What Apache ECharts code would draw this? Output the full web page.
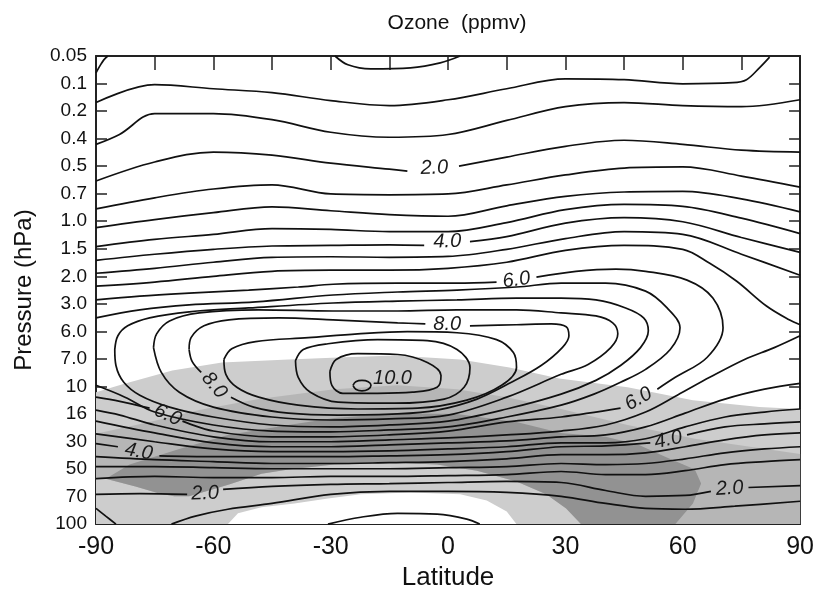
<!DOCTYPE html>
<html>
<head>
<meta charset="utf-8">
<title>Ozone (ppmv)</title>
<script src="https://cdn.jsdelivr.net/npm/echarts@6/dist/echarts.min.js"></script>
<style>
  html, body { margin: 0; padding: 0; background: #fff; }
  #chart { width: 817px; height: 596px; }
</style>
</head>
<body>
<div id="chart"></div>
<script>
// pressure levels, drawn evenly spaced from top (index 0) to bottom (index 17)
var pressureLabels = ['0.05', '0.1', '0.2', '0.4', '0.5', '0.7', '1.0', '1.5', '2.0',
  '3.0', '6.0', '7.0', '10', '16', '30', '50', '70', '100'];

// contour lines, each point is [latitude, pressure level index]
var cCorner = [[-90, 0.61], [-89, 0.36], [-88, 0.14], [-87, 0]];
var cTopLoop = [[-28.9, 0], [-25.6, 0.32], [-19.8, 0.47], [-9.6, 0.43], [-2, 0.25], [3.1, 0]];
var cA = [[-90, 1.69], [-75, 1.04], [-60, 1.19], [-45, 1.33], [-30, 1.62], [-15, 1.80], [0, 1.59],
  [15, 1.19], [30, 0.83], [45, 0.86], [60, 1.01], [72.8, 0.97], [76.3, 0.86], [79.6, 0.43], [82.2, 0.04]];
var cB = [[-90, 3.21], [-84, 2.85], [-75, 2.09], [-60, 2.09], [-45, 2.31], [-30, 2.77], [-15, 2.95],
  [0, 2.85], [15, 2.34], [30, 1.84], [45, 1.69], [60, 1.80], [75, 1.84], [90, 1.59]];
var c20TopW = [[-90, 4.54], [-75, 3.85], [-60, 3.49], [-45, 3.60], [-30, 3.89], [-15, 4.11], [-10.4, 4.18]];
var c20TopE = [[2.8, 4.00], [15, 3.67], [30, 3.28], [45, 3.06], [60, 3.21], [75, 3.42], [90, 3.49]];
var cD = [[-90, 5.55], [-75, 5.15], [-60, 4.83], [-45, 4.68], [-30, 5.01], [-15, 5.04], [0, 5.01],
  [15, 4.68], [30, 4.32], [45, 4.07], [60, 4.03], [75, 4.36], [90, 4.76]];
var cE = [[-90, 6.23], [-75, 5.94], [-60, 5.69], [-45, 5.48], [-30, 5.62], [-15, 5.76], [0, 5.82],
  [15, 5.44], [30, 5.10], [45, 4.94], [60, 4.92], [75, 5.19], [90, 5.66]];
var cF = [[-90, 6.92], [-75, 6.66], [-60, 6.48], [-45, 6.27], [-30, 6.30], [-15, 6.38], [0, 6.38],
  [15, 6.05], [30, 5.58], [45, 5.39], [60, 5.46], [75, 5.89], [90, 6.45]];
var c40TopW = [[-90, 7.42], [-75, 7.20], [-60, 7.02], [-45, 6.90], [-30, 6.88], [-15, 6.86], [-6.1, 6.88]];
var c40TopE = [[5.6, 6.74], [15, 6.56], [30, 6.07], [45, 5.87], [60, 6.02], [75, 6.59], [90, 7.13]];
var cH = [[-90, 7.89], [-75, 7.71], [-60, 7.49], [-45, 7.31], [-30, 7.29], [-15, 7.31], [0, 7.28],
  [15, 7.02], [30, 6.63], [45, 6.38], [60, 6.48], [75, 7.20], [90, 7.96]];
var cIUpper = [[-90, 8.36], [-75, 8.21], [-60, 8.00], [-45, 7.82], [-30, 7.78], [-15, 7.78], [0, 7.71],
  [15, 7.49], [30, 7.06], [45, 6.88], [60, 7.02], [66.9, 7.53], [73.8, 8.18], [81.4, 9.08], [87.2, 9.58], [90, 9.76]];
var cILower = [[90, 10.16], [83.4, 10.59], [75.8, 11.02], [66.9, 11.67], [58.6, 12.32], [50.5, 12.93],
  [40.3, 13.40], [28.9, 13.62], [15, 13.76], [0, 13.87], [-15, 13.94], [-30, 14.01], [-45, 14.01],
  [-60, 13.83], [-75, 13.40], [-83.9, 13.04], [-90, 12.86]];
var c60a = [[-90, 8.86], [-78.8, 8.72], [-66.2, 8.61], [-51, 8.50], [-38.3, 8.39], [-29.4, 8.29],
  [-12.9, 8.25], [2.3, 8.25], [12.4, 8.21]];
var c60b = [[22.6, 8.03], [32.7, 7.82], [42.9, 7.74], [50.5, 7.82], [61.1, 8.14], [67.7, 8.79],
  [70.3, 9.87], [66.2, 10.95], [58.1, 11.67], [53.5, 12.10]];
var c60c = [[44.1, 12.79], [28.9, 13.11], [15, 13.29], [0, 13.62], [-15, 13.76], [-30, 13.83],
  [-45, 13.83], [-60, 13.62], [-67.9, 13.26]];
var c60d = [[-76.3, 12.79], [-83.9, 12.54], [-90, 12.39]];
var cK = [[-90, 9.51], [-78.8, 9.22], [-66.2, 9.04], [-49.2, 8.93], [-29.4, 8.68], [-12.9, 8.57],
  [2.3, 8.50], [17.5, 8.39], [28.9, 8.25], [40.3, 8.25], [50.5, 8.54], [56, 9.15], [59.3, 9.87],
  [56.8, 10.66], [50.5, 11.38], [44.1, 11.85], [37.3, 12.28], [28.9, 12.68], [15, 13.11], [0, 13.47],
  [-15, 13.58], [-30, 13.65], [-45, 13.62], [-60, 13.40], [-75, 12.93], [-82.6, 12.39], [-90, 11.96]];
var cTip = [[-85.2, 10.66], [-84.4, 10.16], [-81.9, 9.80], [-76.3, 9.51], [-66.2, 9.29], [-51, 9.15],
  [-29.4, 8.97], [-12.9, 8.90], [2.3, 8.86], [17.5, 8.79], [28.9, 8.79], [37.8, 8.86], [45.4, 9.15],
  [50, 9.51], [51.2, 9.98], [49.2, 10.59], [44.1, 11.24], [37.8, 11.78], [28.9, 12.28], [15, 12.82],
  [0, 13.26], [-15, 13.40], [-30, 13.47], [-45, 13.40], [-60, 13.11], [-71.2, 12.75], [-78.8, 12.32],
  [-82.9, 11.85], [-84.9, 11.24], [-85.2, 10.66]];
var cM7 = [[-75.3, 10.59], [-74.5, 10.09], [-71.2, 9.62], [-63.6, 9.33], [-48.4, 9.22], [-29.4, 9.26],
  [-12.9, 9.26], [2.3, 9.22], [17.5, 9.22], [28.9, 9.33], [37.8, 9.44], [42.1, 9.69], [43.4, 10.09],
  [41.6, 10.59], [35.8, 11.20], [28.9, 11.56], [15, 12.39], [0, 13.04], [-15, 13.18], [-30, 13.22],
  [-45, 13.11], [-60, 12.75], [-68.7, 12.21], [-73.3, 11.49], [-75.3, 10.59]];
var c80a = [[-66.2, 10.66], [-65.7, 10.23], [-62.4, 9.80], [-56, 9.58], [-43.3, 9.51], [-29.4, 9.58],
  [-12.9, 9.69], [-5.8, 9.73]];
var c80b = [[5.6, 9.80], [17.5, 9.76], [26.4, 9.73], [30.2, 9.83], [30.9, 10.16], [29.2, 10.59],
  [23.8, 11.24], [16.2, 11.85], [7.4, 12.46], [-2.8, 12.86], [-12.9, 13.00], [-28.1, 13.04],
  [-40.8, 12.97], [-49.7, 12.75], [-55.5, 12.39]];
var c80c = [[-63.1, 11.49], [-65.4, 11.10], [-66.2, 10.66]];
var c85 = [[-57.3, 11.02], [-55.3, 10.63], [-49.2, 10.37], [-35.7, 10.23], [-23.1, 10.09], [-10.4, 10.01],
  [2.3, 10.05], [12.4, 10.30], [16.7, 10.77], [17.5, 11.31], [13.7, 11.96], [4.8, 12.50], [-7.8, 12.79],
  [-23.1, 12.82], [-38.3, 12.68], [-48.4, 12.39], [-54, 12.03], [-56.8, 11.56], [-57.3, 11.02]];
var c90 = [[-39, 11.06], [-37, 10.66], [-30.7, 10.45], [-18, 10.30], [-5.3, 10.34], [2.3, 10.66],
  [5.6, 11.31], [4.1, 12.03], [-1, 12.46], [-13.7, 12.61], [-28.1, 12.57], [-35.2, 12.21],
  [-38.3, 11.67], [-39, 11.06]];
var c95 = [[-30.2, 11.46], [-28.6, 11.02], [-23.1, 10.81], [-12.9, 10.84], [-5.3, 11.13], [-1.8, 11.60],
  [-2.8, 12.03], [-9.1, 12.21], [-18, 12.25], [-26.9, 12.25], [-29.7, 11.96], [-30.2, 11.46]];
var c100 = [[-24.3, 11.96], [-23.6, 11.83], [-22, 11.78], [-20.4, 11.83], [-19.7, 11.96], [-20.4, 12.10],
  [-22, 12.16], [-23.6, 12.10], [-24.3, 11.96]];
var cL50 = [[-90, 13.26], [-75, 13.69], [-60, 14.05], [-45, 14.19], [-30, 14.19], [-15, 14.12], [0, 14.05],
  [15, 13.98], [28.9, 13.83], [40.3, 13.76], [50.5, 13.47], [60.6, 12.97], [70.8, 12.46], [80.9, 12.10], [90, 11.89]];
var cL45 = [[-90, 13.72], [-75, 14.01], [-60, 14.27], [-45, 14.37], [-30, 14.37], [-15, 14.34], [0, 14.27],
  [15, 14.19], [28.9, 14.05], [40.3, 14.05], [50.5, 13.90], [60.6, 13.47], [70.8, 13.11], [80.9, 12.93], [90, 12.82]];
var cL40a = [[-90, 14.08], [-84.4, 14.19]];
var cL40b = [[-73.8, 14.52], [-60, 14.55], [-45, 14.55], [-30, 14.55], [-15, 14.52], [0, 14.48], [15, 14.37],
  [28.9, 14.19], [40.3, 14.16], [51.7, 14.05]];
var cL40c = [[61.1, 13.76], [70.8, 13.47], [80.9, 13.36], [90, 13.29]];
var cL35 = [[-90, 14.55], [-75, 14.66], [-60, 14.73], [-45, 14.80], [-30, 14.80], [-15, 14.77], [0, 14.73],
  [15, 14.63], [28.9, 14.48], [40.3, 14.48], [50.5, 14.41], [60.6, 14.19], [70.8, 13.94], [80.9, 13.76], [90, 13.69]];
var cL30 = [[-90, 14.91], [-75, 14.91], [-60, 14.95], [-45, 14.99], [-30, 14.99], [-15, 14.99], [0, 14.95],
  [15, 14.91], [28.9, 14.80], [40.3, 14.84], [50.5, 14.80], [60.6, 14.63], [70.8, 14.41], [80.9, 14.27], [90, 14.19]];
var cL25 = [[-90, 15.35], [-75, 15.27], [-60, 15.31], [-45, 15.31], [-30, 15.27], [-15, 15.27], [0, 15.24],
  [15, 15.20], [28.9, 15.09], [40.3, 15.20], [50.5, 15.20], [60.6, 15.06], [70.8, 14.84], [80.9, 14.73], [90, 14.66]];
var cL20a = [[-90, 15.92], [-78.8, 15.89], [-66.7, 15.92]];
var cL20b = [[-57.5, 15.74], [-45, 15.63], [-30, 15.56], [-15, 15.53], [0, 15.49], [15, 15.45], [28.9, 15.49],
  [40.3, 15.78], [50.5, 15.99], [60.6, 15.96], [67.2, 15.81]];
var cL20c = [[76.8, 15.67], [90, 15.60]];
var cL15 = [[-70.7, 17], [-64.6, 16.71], [-56.3, 16.46], [-45, 16.25], [-30, 15.92], [-15, 15.81], [0, 15.81],
  [15, 15.85], [28.9, 15.99], [40.3, 16.25], [50.5, 16.43], [60.6, 16.46], [73.3, 16.35], [90, 16.17]];
var cL10Corner = [[-90, 16.43], [-87.5, 16.71], [-84.9, 17]];
var cL10Arc = [[-30.7, 17], [-22.3, 16.75], [-12.9, 16.61], [-2.8, 16.64], [4.8, 16.82], [8.1, 17]];

// contour labels: [latitude, level index, text, rotation in degrees]
var contourLabels = [
  [-3.5, 4.07, '2.0', 2], [-0.2, 6.74, '4.0', 1], [17.5, 8.14, '6.0', 8], [-0.2, 9.76, '8.0', 0],
  [-14.2, 11.71, '10.0', 0], [-59.8, 11.96, '8.0', -50], [-71.7, 13.04, '6.0', -25],
  [-79.1, 14.37, '4.0', -10], [-62.1, 15.89, '2.0', 2], [48.7, 12.46, '6.0', 30],
  [56.3, 13.94, '4.0', 12], [72, 15.71, '2.0', 4]
];

// shaded areas, polygons in [latitude, level index]
var shadeLight = [[-90, 12.21], [-83.2, 11.92], [-70.5, 11.42], [-57.8, 11.13], [-40.8, 11.02], [-28.1, 10.95],
  [-13.7, 10.88], [3.1, 11.02], [15.7, 11.31], [28.4, 11.71], [45.9, 12.03], [62.6, 12.50], [79.6, 12.75],
  [90, 12.82], [90, 17], [-90, 17]];
var shadeMedium = [[-90, 13.72], [-76.3, 13.29], [-63.6, 12.86], [-48.4, 12.46], [-29.1, 12.10], [-12.9, 11.96],
  [2.3, 12.10], [15, 12.39], [28.9, 12.82], [45.9, 13.40], [63.1, 13.90], [90, 14.45], [90, 17], [34, 17],
  [30.2, 16.43], [25.1, 15.92], [17.5, 15.45], [7.4, 15.06], [-2.8, 14.84], [-12.9, 14.77], [-29.1, 14.84],
  [-40.8, 15.02], [-47.7, 15.17], [-56, 15.56], [-60.3, 15.74], [-66.2, 15.99], [-70, 15.99], [-73.8, 15.89],
  [-79.9, 15.63], [-87.5, 15.35], [-90, 15.3]];
var shadeWhite = [[-56.3, 17], [-53.7, 16.61], [-47.7, 16.39], [-39.3, 16.25], [-30.7, 16.07], [-22.3, 15.92],
  [-9.6, 15.85], [3.1, 15.92], [9.9, 16.14], [15, 16.54], [17.5, 17]];
var shadeDark = [[-87.5, 15.35], [-81.4, 14.84], [-68.7, 14.27], [-56.3, 13.76], [-40.8, 13.40], [-29.1, 13.15],
  [-12.9, 12.97], [2.3, 13.00], [17.5, 13.29], [28.9, 13.69], [40.3, 13.83], [48.7, 14.12], [55.5, 14.55],
  [63.1, 15.02], [64.7, 15.53], [62.6, 16.25], [58.1, 17], [34, 17], [30.2, 16.43],
  [25.1, 15.92], [17.5, 15.45], [7.4, 15.06], [-2.8, 14.84], [-12.9, 14.77], [-29.1, 14.84], [-40.8, 15.02],
  [-47.7, 15.17], [-56, 15.56], [-60.3, 15.74], [-66.2, 15.99], [-70, 15.99], [-73.8, 15.89], [-79.9, 15.63],
  [-87.5, 15.35]];

var contourLines = [cCorner, cTopLoop, cA, cB, c20TopW, c20TopE, cD, cE, cF, c40TopW, c40TopE, cH,
  cIUpper, cILower, c60a, c60b, c60c, c60d, cK, cTip, cM7, c80a, c80b, c80c, c85, c90, c95, c100,
  cL50, cL45, cL40a, cL40b, cL40c, cL35, cL30, cL25, cL20a, cL20b, cL20c, cL15, cL10Corner, cL10Arc];

var FONT = '"Liberation Sans", Arial, Helvetica, sans-serif';

function shadeSeries(points, color, z) {
  return {
    type: 'custom',
    coordinateSystem: 'cartesian2d',
    silent: true,
    z: z,
    clip: true,
    data: [[0, 0]],
    renderItem: function (params, api) {
      return {
        type: 'polygon',
        shape: { points: points.map(function (p) { return api.coord(p); }) },
        style: { fill: color }
      };
    }
  };
}

var series = [
  shadeSeries(shadeLight, '#cdcdcd', 1),
  shadeSeries(shadeMedium, '#b6b6b6', 2),
  shadeSeries(shadeWhite, '#ffffff', 3),
  shadeSeries(shadeDark, '#929292', 4)
];

contourLines.forEach(function (pts) {
  series.push({
    type: 'line',
    data: pts,
    z: 5,
    smooth: 0.35,
    symbol: 'none',
    silent: true,
    lineStyle: { color: '#111', width: 1.7 }
  });
});

series.push({
  type: 'custom',
  coordinateSystem: 'cartesian2d',
  silent: true,
  z: 6,
  data: contourLabels.map(function (l) { return [l[0], l[1]]; }),
  renderItem: function (params, api) {
    var l = contourLabels[params.dataIndex];
    var pt = api.coord([l[0], l[1]]);
    return {
      type: 'text',
      x: pt[0],
      y: pt[1],
      rotation: l[3] * Math.PI / 180,
      style: {
        text: l[2],
        textAlign: 'center',
        textVerticalAlign: 'middle',
        font: 'italic 20px ' + FONT,
        fill: '#1a1a1a'
      }
    };
  }
});

var frameLine = { show: true, onZero: false, lineStyle: { color: '#222', width: 2 } };

var chart = echarts.init(document.getElementById('chart'));
chart.setOption({
  animation: false,
  backgroundColor: '#fff',
  title: {
    text: 'Ozone  (ppmv)',
    left: 452,
    top: 8,
    textAlign: 'center',
    textStyle: { fontFamily: FONT, fontSize: 21, fontWeight: 'normal', color: '#111' }
  },
  grid: { left: 96, right: 11, top: 56, bottom: 68 },
  xAxis: [{
    type: 'value',
    min: -90,
    max: 90,
    interval: 15,
    position: 'bottom',
    name: 'Latitude',
    nameLocation: 'middle',
    nameGap: 40,
    nameTextStyle: { fontFamily: FONT, fontSize: 26, color: '#111' },
    axisLine: frameLine,
    axisTick: { inside: true, length: 12, lineStyle: { color: '#222', width: 1.5 } },
    axisLabel: {
      margin: 11,
      fontFamily: FONT,
      fontSize: 25,
      color: '#111',
      formatter: function (v) { return v % 30 === 0 ? String(v) : ''; }
    },
    splitLine: { show: false }
  }, {
    type: 'value',
    min: -90,
    max: 90,
    interval: 15,
    position: 'top',
    axisLine: frameLine,
    axisTick: { inside: true, length: 14, lineStyle: { color: '#222', width: 1.5 } },
    axisLabel: { show: false },
    splitLine: { show: false }
  }],
  yAxis: [{
    type: 'value',
    min: 0,
    max: 17,
    interval: 1,
    inverse: true,
    position: 'left',
    name: 'Pressure (hPa)',
    nameLocation: 'middle',
    nameGap: 60,
    nameTextStyle: { fontFamily: FONT, fontSize: 24, color: '#111' },
    axisLine: frameLine,
    axisTick: { inside: true, length: 11, lineStyle: { color: '#222', width: 1.5 } },
    axisLabel: {
      margin: 9,
      fontFamily: FONT,
      fontSize: 19,
      color: '#111',
      formatter: function (v) { return pressureLabels[Math.round(v)]; }
    },
    splitLine: { show: false }
  }, {
    type: 'value',
    min: 0,
    max: 17,
    interval: 1,
    inverse: true,
    position: 'right',
    axisLine: frameLine,
    axisTick: { inside: true, length: 11, lineStyle: { color: '#222', width: 1.5 } },
    axisLabel: { show: false },
    splitLine: { show: false }
  }],
  series: series
});
</script>
</body>
</html>
